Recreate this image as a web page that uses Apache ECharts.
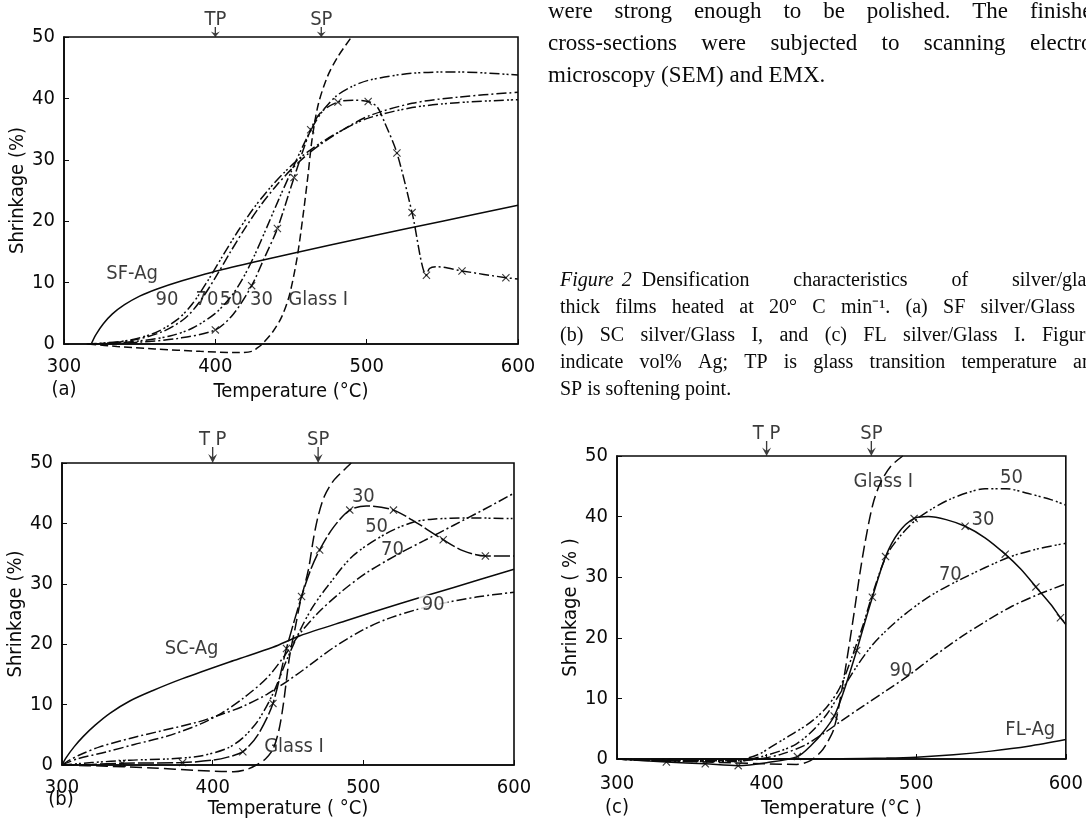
<!DOCTYPE html>
<html>
<head>
<meta charset="utf-8">
<script src="https://cdn.jsdelivr.net/npm/echarts/dist/echarts.min.js"></script>
<style>
html,body{margin:0;padding:0;background:#fff}
#chart{width:1086px;height:820px}
</style>
</head>
<body>
<div id="chart"></div>
<script>
// ---- data (temperature degC, shrinkage %) ----
// (a) SF silver / Glass I
var a_sfag  = [[318,0],[321,1.5],[326,3.3],[332,4.9],[340,6.4],[350,7.8],[362,9.0],[378,10.3],[398,11.7],[425,13.3],[450,14.7],[502,17.5],[550,20.0],[600,22.6]];
var a_90    = [[315,0],[340,0.5],[360,1.8],[375,4.0],[385,6.6],[395,10.3],[405,14.4],[415,18.4],[425,22.0],[435,25.1],[445,27.8],[455,30.1],[465,32.0],[480,34.3],[500,36.7],[530,38.5],[560,39.3],[600,39.8]];
var a_70    = [[320,0],[345,0.6],[365,2.0],[380,4.2],[390,7.0],[400,10.8],[410,15.0],[420,19.0],[430,22.6],[440,25.7],[450,28.4],[460,30.7],[470,32.6],[485,35.0],[502,37.2],[530,39.2],[560,40.2],[600,41.0]];
var a_50    = [[325,0],[350,0.5],[370,1.3],[385,2.6],[400,5.0],[410,7.6],[418,10.6],[426,14.5],[434,19.0],[442,23.6],[450,28.0],[458,32.3],[465,35.7],[472,38.3],[480,40.4],[490,41.9],[502,43.0],[530,44.1],[560,44.3],[600,43.8]];
var a_30    = [[330,0],[350,0.3],[375,0.9],[400,2.3],[412,4.9],[424,9.5],[432,13.8],[441,18.8],[452,27.1],[463,34.9],[470,37.8],[481,39.4],[491,39.7],[501,39.5],[507,38.6],[512,36.0],[520,31.1],[530,21.4],[539.5,11.2],[541.5,12.3],[546,12.6],[563,11.9],[592,10.8],[600,10.6]];
var a_30x   = [[400,2.3],[424,9.5],[441,18.8],[452,27.1],[463,34.9],[481,39.4],[501,39.5],[520,31.1],[530,21.4],[539.5,11.2],[563,11.9],[592,10.8]];
var a_glass = [[316,0],[335,-0.4],[360,-0.8],[390,-1.2],[415,-1.4],[424,-1.2],[428,-0.6],[431,0],[438,2.0],[444,4.5],[449,8.0],[454,14.0],[458,21.0],[461,27.0],[464,33.5],[468,39.0],[474,43.5],[481,46.8],[490,50]];
var a_labels = [['SF-Ag',345,11.4],['90',368,7.2],['70',394.5,7.2],['50',410.5,7.2],['30',430.5,7.2],['Glass I',468,7.2]];

// (b) SC silver / Glass I
var b_scag  = [[300,0],[303,1.3],[308,3.0],[314,4.7],[322,6.6],[332,8.6],[345,10.6],[360,12.3],[380,14.3],[414,17.3],[440,19.5],[458,21.4],[490,24.0],[524,26.7],[560,29.4],[600,32.4]];
var b_90    = [[300,0],[305,0.8],[312,1.7],[325,3.0],[345,4.4],[365,5.6],[390,7.1],[406,8.4],[420,9.7],[436,11.7],[456,15.0],[480,19.4],[500,22.4],[516,24.2],[535,25.7],[551,26.7],[575,27.8],[600,28.6]];
var b_70    = [[300,0],[310,1.0],[330,2.2],[348,3.4],[370,4.8],[392,6.8],[406,8.6],[420,11.0],[436,14.4],[448,18.2],[458,21.8],[470,25.2],[485,28.6],[502,31.8],[523,34.9],[540,37.1],[560,39.7],[580,42.3],[600,45.0]];
var b_50    = [[300,0],[320,0.4],[345,0.8],[370,1.0],[392,1.5],[410,2.8],[420,4.5],[430,7.3],[440,11.8],[449,17.3],[458,22.3],[466,26.0],[476,29.5],[493,34.6],[515,38.3],[533,40.2],[546,40.7],[570,40.9],[600,40.8]];
var b_30    = [[300,0],[320,0.1],[340,0.3],[380,0.4],[400,0.8],[410,1.3],[420,2.2],[430,5.0],[440,10.2],[449,19.3],[459,27.9],[465,32.3],[471,35.6],[480,39.3],[491,42.2],[502,42.9],[520,42.2],[536,40.0],[553,37.3],[566,35.5],[581,34.6],[600,34.6]];
var b_30x   = [[340,0.3],[380,0.4],[420,2.2],[440,10.2],[449,19.3],[459,27.9],[471,35.6],[491,42.2],[520,42.2],[553,37.3],[581,34.6]];
var b_glass = [[300,0],[330,-0.2],[360,-0.5],[390,-0.9],[414,-1.1],[423,-0.7],[429,0],[435,1.0],[440,2.6],[444,5.8],[447,10.2],[451,17.9],[455,23.0],[458,26.8],[463.5,32.3],[467,37.6],[470,41.2],[474,44.4],[480,47.0],[487,48.8],[492,50]];
// 4th field: label breaks the line it sits on
var b_labels = [['SC-Ag',386,19.2],['30',500,44.4],['50',508.8,39.5],['70',519.3,35.6],['90',546.4,26.5,true],['Glass I',454,3.0]];

// (c) FL silver / Glass I
var c_flag  = [[300,0],[350,0],[400,0],[450,0.05],[480,0.15],[500,0.3],[525,0.7],[550,1.3],[575,2.1],[600,3.2]];
var c_90    = [[300,0],[340,-0.3],[380,-0.3],[395,0],[410,0.8],[425,2.2],[438,4.2],[450,6.3],[465,8.8],[480,11.3],[495,13.8],[512,17.0],[531,20.3],[547,22.8],[564,25.2],[582,27.2],[600,28.9]];
var c_70    = [[300,0],[340,-0.4],[380,-0.4],[395,0.3],[410,1.4],[420,2.5],[430,4.5],[440,7.3],[449,10.8],[460,15.2],[470,18.6],[480,21.2],[493,24.0],[510,27.0],[531,29.8],[561,33.2],[580,34.6],[600,35.6]];
var c_50    = [[300,0],[340,-0.3],[380,-0.2],[395,0.8],[403,2.0],[415,3.8],[429,6.0],[440,8.5],[449,11.8],[458,17.5],[465,22.5],[470,26.6],[480,33.5],[490,37.0],[500,39.5],[510,41.2],[522,42.8],[535,44.0],[546,44.6],[560,44.6],[575,43.8],[590,42.8],[600,41.9]];
var c_30    = [[300,0],[333,-0.5],[359,-0.8],[381,-1.1],[400,-0.6],[420.6,0.4],[430,2.3],[438,4.5],[445.2,7.1],[452,11.5],[460.2,17.9],[465,22.0],[470.7,26.7],[479.5,33.4],[488,37.3],[498.6,39.7],[508,40.0],[520,39.5],[532.7,38.4],[546,36.5],[559.5,33.8],[570,31.3],[580,28.4],[590,25.5],[596.4,23.3],[600,22.2]];
var c_30x   = [[333,-0.5],[359,-0.8],[381,-1.1],[420.6,0.4],[445.2,7.1],[460.2,17.9],[470.7,26.7],[479.5,33.4],[498.6,39.7],[532.7,38.4],[559.5,33.8],[580,28.4],[596.4,23.3]];
var c_glass = [[300,0],[330,-0.2],[360,-0.5],[400,-0.8],[420,-0.9],[429,-0.3],[436,1.1],[440,2.5],[445,5.0],[450,11.0],[455,18.5],[459,25.0],[462.4,30.7],[466,36.0],[471,42.0],[476,45.5],[483,48.3],[491,50]];
var c_labels = [['Glass I',478,45.7],['50',563.7,46.4],['30',544.6,39.5],['70',522.8,30.4],['90',489.8,14.5],['FL-Ag',576.2,4.9]];

// glass transition (TP) and softening point (SP)
var pointTemps = [400, 470];

var tempTicks = [300, 400, 500, 600];
var shrinkTicks = [0, 10, 20, 30, 40, 50];

// ---- styling ----
var INK = '#0a0a0a';
var SANS = '"Liberation Sans Narrow","DejaVu Sans Condensed",sans-serif';
var SERIF = '"Liberation Serif","Times New Roman",serif';
var DASH = [8, 4], LDASH = [12, 5], DOT1 = [10, 3, 2, 3], DOT2 = [10, 3, 2, 2, 2, 3];
var XSYM = 'path://M0,1 L1,0 L5,4 L9,0 L10,1 L6,5 L10,9 L9,10 L5,6 L1,10 L0,9 L4,5 Z';
var ARROW = 'path://M4.4,0 L5.6,0 L5.6,10 L9,7 L5,16 L1,7 L4.4,10 Z';

var grids = [
  {left: 64, top: 37, width: 454, height: 307},
  {left: 62, top: 463, width: 452, height: 302},
  {left: 617, top: 456, width: 455, height: 304}
];

function xAx(i, name, gap, margin) {
  return {
    gridIndex: i, type: 'value', min: tempTicks[0], max: tempTicks[tempTicks.length - 1], interval: 100,
    name: name, nameLocation: 'middle', nameGap: gap,
    nameTextStyle: {fontFamily: SANS, fontSize: 20, color: INK},
    axisLine: {show: true, onZero: false, lineStyle: {color: INK, width: 1.6}},
    axisTick: {show: true, inside: true, length: 5, lineStyle: {color: INK}},
    axisLabel: {margin: margin, color: INK, fontFamily: SANS, fontSize: 20},
    splitLine: {show: false}
  };
}
function yAx(i, name, gap) {
  return {
    gridIndex: i, type: 'value', min: shrinkTicks[0], max: shrinkTicks[shrinkTicks.length - 1], interval: 10,
    name: name, nameLocation: 'middle', nameGap: gap,
    nameTextStyle: {fontFamily: SANS, fontSize: 20, color: INK},
    axisLine: {show: true, lineStyle: {color: INK, width: 1.6}},
    axisTick: {show: true, inside: true, length: 5, lineStyle: {color: INK}},
    axisLabel: {margin: 9, color: INK, fontFamily: SANS, fontSize: 20},
    splitLine: {show: false}
  };
}
function line(gi, data, dash) {
  return {
    type: 'line', xAxisIndex: gi, yAxisIndex: gi, data: data, symbol: 'none',
    smooth: 0.3, clip: false, silent: true,
    lineStyle: {color: INK, width: 1.5, type: dash}
  };
}
function marks(gi, data) {
  return {
    type: 'scatter', xAxisIndex: gi, yAxisIndex: gi, data: data, clip: false, silent: true,
    symbol: XSYM, symbolSize: 8, itemStyle: {color: INK}
  };
}
function labels(gi, arr) {
  return {
    type: 'scatter', xAxisIndex: gi, yAxisIndex: gi, clip: false, silent: true, symbolSize: 0, z: 5,
    data: arr.map(function (l) {
      var d = {name: l[0], value: [l[1], l[2]]};
      if (l[3]) d.label = {backgroundColor: '#fff', padding: [0, 3]};
      return d;
    }),
    label: {show: true, position: 'inside', formatter: '{b}', fontFamily: SANS, fontSize: 20,
      color: INK, textBorderWidth: 0}
  };
}
function arrows(gi, tpName, h) {
  return {
    type: 'scatter', xAxisIndex: gi, yAxisIndex: gi, clip: false, silent: true,
    data: [{name: tpName, value: [pointTemps[0], 50]}, {name: 'SP', value: [pointTemps[1], 50]}],
    symbol: ARROW, symbolSize: [9, h], symbolOffset: [0, -h / 2], itemStyle: {color: INK},
    label: {show: true, position: 'top', distance: -3, formatter: '{b}', fontFamily: SANS, fontSize: 20,
      color: INK, textBorderWidth: 0}
  };
}

// ---- justified text columns (paragraph + caption) ----
var ctx = document.createElement('canvas').getContext('2d');
function textW(s, font) { ctx.font = font; return ctx.measureText(s).width; }
var graphic = [];
function textLine(words, x0, x1, cy, size, justify) {
  var fonts = words.map(function (w) { return (w.it ? 'italic ' : '') + size + 'px ' + SERIF; });
  var widths = words.map(function (w, k) { return textW(w.t, fonts[k]); });
  var sum = widths.reduce(function (s, v) { return s + v; }, 0);
  var fixedSum = 0, nFree = 0;
  words.slice(0, -1).forEach(function (w) { if (w.gap != null) fixedSum += w.gap; else nFree++; });
  var gap = justify ? (x1 - x0 - sum - fixedSum) / nFree : textW(' ', fonts[0]);
  var x = x0;
  words.forEach(function (w, k) {
    graphic.push({type: 'text', x: x, y: cy, silent: true,
      style: {text: w.t, font: fonts[k], fill: INK, verticalAlign: 'middle', align: 'left'}});
    x += widths[k] + (w.gap != null ? w.gap : gap);
  });
}
function W(s) { return s.split(' ').map(function (t) { return {t: t}; }); }

var paraLines = [
  'were strong enough to be polished. The finished',
  'cross-sections were subjected to scanning electron',
  'microscopy (SEM) and EMX.'
];
paraLines.forEach(function (s, k) {
  textLine(W(s), 548, 1104, 12 + k * 32, 23, k < paraLines.length - 1);
});
var capLines = [
  [{t: 'Figure', it: true, gap: 8}, {t: '2', it: true, gap: 10}].concat(W('Densification characteristics of silver/glass')),
  W('thick films heated at 20° C min⁻¹. (a) SF silver/Glass I,'),
  W('(b) SC silver/Glass I, and (c) FL silver/Glass I. Figures'),
  W('indicate vol% Ag; TP is glass transition temperature and'),
  W('SP is softening point.')
];
capLines.forEach(function (ws, k) {
  textLine(ws, 560, 1102, 281 + k * 27.2, 20, k < capLines.length - 1);
});
// panel letters under the first tick label
[['(a)', 64, 390], ['(b)', 61, 800], ['(c)', 617, 808]].forEach(function (p) {
  graphic.push({type: 'text', x: p[1], y: p[2], silent: true,
    style: {text: p[0], font: '20px ' + SANS, fill: INK, align: 'center', verticalAlign: 'middle'}});
});

var chart = echarts.init(document.getElementById('chart'), null, {renderer: 'canvas'});
chart.setOption({
  animation: false,
  backgroundColor: '#fff',
  grid: grids.map(function (g) {
    return {left: g.left, top: g.top, width: g.width, height: g.height, show: true,
      borderColor: INK, borderWidth: 1.6, backgroundColor: 'transparent', containLabel: false};
  }),
  xAxis: [xAx(0, 'Temperature (°C)', 38, 13), xAx(1, 'Temperature ( °C)', 26, 13), xAx(2, 'Temperature (°C )', 40, 15)],
  yAxis: [yAx(0, 'Shrinkage (%)', 32), yAx(1, 'Shrinkage (%)', 30), yAx(2, 'Shrinkage ( % )', 30)],
  graphic: graphic,
  series: [
    line(0, a_sfag, 'solid'), line(0, a_90, DOT2), line(0, a_70, DOT1), line(0, a_50, DOT2),
    line(0, a_30, DOT1), line(0, a_glass, DASH), marks(0, a_30x), labels(0, a_labels), arrows(0, 'TP', 10),

    line(1, b_scag, 'solid'), line(1, b_90, DOT1), line(1, b_70, DOT1), line(1, b_50, DOT2),
    line(1, b_30, [16, 3]), line(1, b_glass, LDASH), marks(1, b_30x), labels(1, b_labels), arrows(1, 'T P', 16),

    line(2, c_flag, 'solid'), line(2, c_90, DOT1), line(2, c_70, DOT2), line(2, c_50, DOT2),
    line(2, c_30, 'solid'), line(2, c_glass, LDASH), marks(2, c_30x), labels(2, c_labels), arrows(2, 'T P', 15)
  ]
});
</script>
</body>
</html>
